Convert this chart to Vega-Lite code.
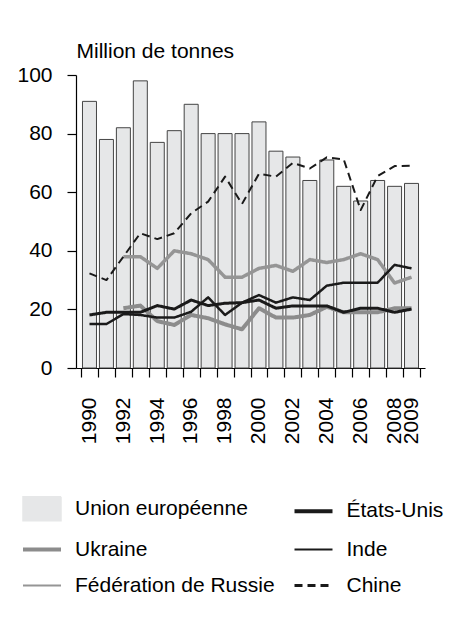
{
  "$schema": "https://vega.github.io/schema/vega-lite/v6.json",
  "width": 349,
  "height": 293,
  "autosize": {"type": "none"},
  "padding": {"left": 76, "top": 75, "right": 24, "bottom": 249},
  "background": "white",
  "config": {
    "font": "Liberation Sans",
    "view": {"stroke": null},
    "axis": {"grid": false, "domainColor": "#000000", "tickColor": "#000000", "labelColor": "#000000", "labelFontSize": 21, "labelFont": "Liberation Sans", "domainWidth": 1.2, "tickWidth": 1.2}
  },
  "data": {
    "values": [
      {"year": 1990, "series": "Union européenne", "value": 91},
      {"year": 1991, "series": "Union européenne", "value": 78},
      {"year": 1992, "series": "Union européenne", "value": 82},
      {"year": 1993, "series": "Union européenne", "value": 98},
      {"year": 1994, "series": "Union européenne", "value": 77},
      {"year": 1995, "series": "Union européenne", "value": 81},
      {"year": 1996, "series": "Union européenne", "value": 90},
      {"year": 1997, "series": "Union européenne", "value": 80},
      {"year": 1998, "series": "Union européenne", "value": 80},
      {"year": 1999, "series": "Union européenne", "value": 80},
      {"year": 2000, "series": "Union européenne", "value": 84},
      {"year": 2001, "series": "Union européenne", "value": 74},
      {"year": 2002, "series": "Union européenne", "value": 72},
      {"year": 2003, "series": "Union européenne", "value": 64},
      {"year": 2004, "series": "Union européenne", "value": 71},
      {"year": 2005, "series": "Union européenne", "value": 62},
      {"year": 2006, "series": "Union européenne", "value": 57},
      {"year": 2007, "series": "Union européenne", "value": 64},
      {"year": 2008, "series": "Union européenne", "value": 62},
      {"year": 2009, "series": "Union européenne", "value": 63},

      {"year": 1992, "series": "Fédération de Russie", "value": 38},
      {"year": 1993, "series": "Fédération de Russie", "value": 38},
      {"year": 1994, "series": "Fédération de Russie", "value": 34},
      {"year": 1995, "series": "Fédération de Russie", "value": 40},
      {"year": 1996, "series": "Fédération de Russie", "value": 39},
      {"year": 1997, "series": "Fédération de Russie", "value": 37},
      {"year": 1998, "series": "Fédération de Russie", "value": 31},
      {"year": 1999, "series": "Fédération de Russie", "value": 31},
      {"year": 2000, "series": "Fédération de Russie", "value": 34},
      {"year": 2001, "series": "Fédération de Russie", "value": 35},
      {"year": 2002, "series": "Fédération de Russie", "value": 33},
      {"year": 2003, "series": "Fédération de Russie", "value": 37},
      {"year": 2004, "series": "Fédération de Russie", "value": 36},
      {"year": 2005, "series": "Fédération de Russie", "value": 37},
      {"year": 2006, "series": "Fédération de Russie", "value": 39},
      {"year": 2007, "series": "Fédération de Russie", "value": 37},
      {"year": 2008, "series": "Fédération de Russie", "value": 29},
      {"year": 2009, "series": "Fédération de Russie", "value": 31},

      {"year": 1992, "series": "Ukraine", "value": 20.4},
      {"year": 1993, "series": "Ukraine", "value": 21.3},
      {"year": 1994, "series": "Ukraine", "value": 16},
      {"year": 1995, "series": "Ukraine", "value": 14.7},
      {"year": 1996, "series": "Ukraine", "value": 18.1},
      {"year": 1997, "series": "Ukraine", "value": 17},
      {"year": 1998, "series": "Ukraine", "value": 14.9},
      {"year": 1999, "series": "Ukraine", "value": 13.2},
      {"year": 2000, "series": "Ukraine", "value": 20.4},
      {"year": 2001, "series": "Ukraine", "value": 17.2},
      {"year": 2002, "series": "Ukraine", "value": 17.2},
      {"year": 2003, "series": "Ukraine", "value": 18.1},
      {"year": 2004, "series": "Ukraine", "value": 20.9},
      {"year": 2005, "series": "Ukraine", "value": 19},
      {"year": 2006, "series": "Ukraine", "value": 19},
      {"year": 2007, "series": "Ukraine", "value": 19},
      {"year": 2008, "series": "Ukraine", "value": 20.4},
      {"year": 2009, "series": "Ukraine", "value": 20.4},

      {"year": 1990, "series": "Inde", "value": 15},
      {"year": 1991, "series": "Inde", "value": 15},
      {"year": 1992, "series": "Inde", "value": 18.4},
      {"year": 1993, "series": "Inde", "value": 18.1},
      {"year": 1994, "series": "Inde", "value": 17.2},
      {"year": 1995, "series": "Inde", "value": 17.2},
      {"year": 1996, "series": "Inde", "value": 19.2},
      {"year": 1997, "series": "Inde", "value": 24.1},
      {"year": 1998, "series": "Inde", "value": 18.1},
      {"year": 1999, "series": "Inde", "value": 22.3},
      {"year": 2000, "series": "Inde", "value": 24.9},
      {"year": 2001, "series": "Inde", "value": 22.3},
      {"year": 2002, "series": "Inde", "value": 24.1},
      {"year": 2003, "series": "Inde", "value": 23.2},
      {"year": 2004, "series": "Inde", "value": 28.1},
      {"year": 2005, "series": "Inde", "value": 29.1},
      {"year": 2006, "series": "Inde", "value": 29.1},
      {"year": 2007, "series": "Inde", "value": 29.1},
      {"year": 2008, "series": "Inde", "value": 35.2},
      {"year": 2009, "series": "Inde", "value": 34},

      {"year": 1990, "series": "États-Unis", "value": 18.1},
      {"year": 1991, "series": "États-Unis", "value": 19},
      {"year": 1992, "series": "États-Unis", "value": 19},
      {"year": 1993, "series": "États-Unis", "value": 19},
      {"year": 1994, "series": "États-Unis", "value": 21.3},
      {"year": 1995, "series": "États-Unis", "value": 20.1},
      {"year": 1996, "series": "États-Unis", "value": 23.2},
      {"year": 1997, "series": "États-Unis", "value": 21.3},
      {"year": 1998, "series": "États-Unis", "value": 22.1},
      {"year": 1999, "series": "États-Unis", "value": 22.3},
      {"year": 2000, "series": "États-Unis", "value": 23.2},
      {"year": 2001, "series": "États-Unis", "value": 20.4},
      {"year": 2002, "series": "États-Unis", "value": 21.2},
      {"year": 2003, "series": "États-Unis", "value": 21.2},
      {"year": 2004, "series": "États-Unis", "value": 21.2},
      {"year": 2005, "series": "États-Unis", "value": 19},
      {"year": 2006, "series": "États-Unis", "value": 20.4},
      {"year": 2007, "series": "États-Unis", "value": 20.4},
      {"year": 2008, "series": "États-Unis", "value": 19},
      {"year": 2009, "series": "États-Unis", "value": 20.1},

      {"year": 1990, "series": "Chine", "value": 32.3},
      {"year": 1991, "series": "Chine", "value": 30},
      {"year": 1992, "series": "Chine", "value": 38},
      {"year": 1993, "series": "Chine", "value": 46},
      {"year": 1994, "series": "Chine", "value": 44},
      {"year": 1995, "series": "Chine", "value": 46},
      {"year": 1996, "series": "Chine", "value": 52.8},
      {"year": 1997, "series": "Chine", "value": 56.8},
      {"year": 1998, "series": "Chine", "value": 65.3},
      {"year": 1999, "series": "Chine", "value": 56},
      {"year": 2000, "series": "Chine", "value": 66.3},
      {"year": 2001, "series": "Chine", "value": 65.3},
      {"year": 2002, "series": "Chine", "value": 70},
      {"year": 2003, "series": "Chine", "value": 68.1},
      {"year": 2004, "series": "Chine", "value": 71.9},
      {"year": 2005, "series": "Chine", "value": 71.2},
      {"year": 2006, "series": "Chine", "value": 53.9},
      {"year": 2007, "series": "Chine", "value": 65.5},
      {"year": 2008, "series": "Chine", "value": 68.9},
      {"year": 2009, "series": "Chine", "value": 69}
    ]
  },
  "encoding": {
    "x": {
      "field": "year", "type": "quantitative",
      "scale": {"domain": [1989.5, 2009.5], "nice": false, "zero": false},
      "axis": {
        "title": null,
        "values": [1989.5, 1990.5, 1991.5, 1992.5, 1993.5, 1994.5, 1995.5, 1996.5, 1997.5, 1998.5, 1999.5, 2000.5, 2001.5, 2002.5, 2003.5, 2004.5, 2005.5, 2006.5, 2007.5, 2008.5, 2009.5],
        "labelExpr": "(datum.value < 2009 && (datum.value + 0.5) % 2 == 0) || datum.value == 2008.5 ? '' + (datum.value + 0.5) : ''",
        "labelOffset": 8.2,
        "labelAngle": -90,
        "labelAlign": "right",
        "labelBaseline": "middle",
        "labelPadding": 20,
        "labelOverlap": false,
        "labelFlush": false,
        "labelBound": false,
        "tickSize": 9
      }
    },
    "y": {
      "field": "value", "type": "quantitative",
      "scale": {"domain": [0, 100], "nice": false},
      "axis": {
        "values": [0, 20, 40, 60, 80, 100],
        "tickSize": 9,
        "labelPadding": 15,
        "title": "Million de tonnes",
        "titleAngle": 0,
        "titleX": 0,
        "titleY": -18,
        "titleAlign": "left",
        "titleBaseline": "alphabetic",
        "titleFontSize": 21,
        "titleFontWeight": "normal",
        "titleColor": "#000000",
        "titleFont": "Liberation Sans"
      }
    },
    "color": {
      "field": "series", "type": "nominal",
      "scale": {
        "domain": ["Union européenne", "Ukraine", "Fédération de Russie", "États-Unis", "Inde", "Chine"],
        "range": ["#e6e7e8", "#8c8c8c", "#959595", "#1a1a1a", "#1a1a1a", "#1a1a1a"]
      },
      "legend": {
        "title": null,
        "orient": "none",
        "legendX": -44.5,
        "legendY": 423,
        "columns": 2,
        "columnPadding": 10.5,
        "rowPadding": 14,
        "padding": 0,
        "labelOffset": 22.5,
        "labelFontSize": 21,
        "labelFont": "Liberation Sans",
        "labelColor": "#000000",
        "labelLimit": 400,
        "symbolSize": 1444,
        "symbolOpacity": 1,
        "encode": {
          "symbols": {
            "update": {
              "shape": {"signal": "datum.value == 'Union européenne' ? 'M-1,-0.63L1,-0.63L1,0.63L-1,0.63Z' : 'M-1,0L1,0'"},
              "size": {"value": 1444},
              "fill": {"signal": "datum.value == 'Union européenne' ? '#e6e7e8' : 'transparent'"},
              "fillOpacity": {"value": 1},
              "stroke": {"signal": "datum.value == 'Union européenne' ? '#3a3a3a' : (datum.value == 'Ukraine' ? '#8c8c8c' : (datum.value == 'Fédération de Russie' ? '#959595' : '#1a1a1a'))"},
              "strokeOpacity": {"value": 1},
              "strokeWidth": {"signal": "datum.value == 'Union européenne' ? 1.5 : ((datum.value == 'Ukraine' || datum.value == 'États-Unis') ? 4 : (datum.value == 'Chine' ? 2.8 : 2))"},
              "strokeDash": {"signal": "datum.value == 'Chine' ? [8, 5] : [1, 0]"},
              "opacity": {"value": 1}
            }
          }
        }
      }
    }
  },
  "layer": [
    {
      "transform": [{"filter": "datum.series == 'Union européenne'"}],
      "mark": {"type": "bar", "width": 14, "stroke": "#444444", "strokeWidth": 1, "opacity": 1}
    },
    {
      "transform": [{"filter": "datum.series != 'Union européenne'"}],
      "mark": {"type": "line", "strokeJoin": "round", "opacity": 1},
      "encoding": {
        "strokeWidth": {
          "field": "series", "type": "nominal",
          "scale": {"domain": ["Ukraine", "Fédération de Russie", "États-Unis", "Inde", "Chine"], "range": [4, 2, 4, 2, 2.8]},
          "legend": null
        },
        "strokeDash": {
          "field": "series", "type": "nominal",
          "scale": {"domain": ["Ukraine", "Fédération de Russie", "États-Unis", "Inde", "Chine"], "range": [[1, 0], [1, 0], [1, 0], [1, 0], [8, 5]]},
          "legend": null
        }
      }
    }
  ]
}
